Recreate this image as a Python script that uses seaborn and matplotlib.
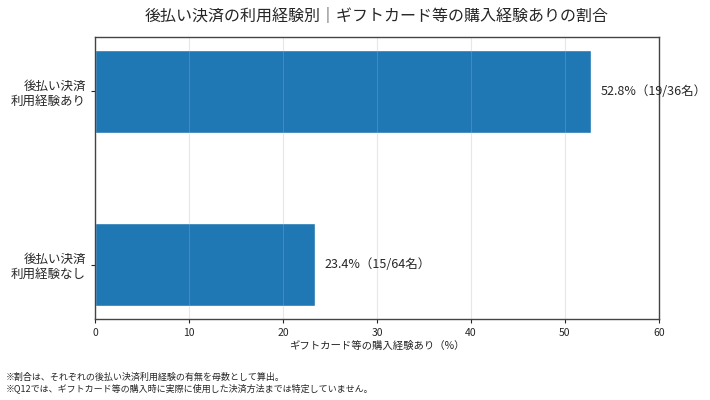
import matplotlib
matplotlib.use("Agg")
import matplotlib.pyplot as plt
import seaborn as sns
import pandas as pd

# data
groups = ["後払い決済\n利用経験あり", "後払い決済\n利用経験なし"]
rates = [52.8, 23.4]
buyers = [19, 15]
totals = [36, 64]

title = "後払い決済の利用経験別｜ギフトカード等の購入経験ありの割合"
xlabel = "ギフトカード等の購入経験あり（%）"
notes = [
    "※割合は、それぞれの後払い決済利用経験の有無を母数として算出。",
    "※Q12では、ギフトカード等の購入時に実際に使用した決済方法までは特定していません。",
]

sns.set_style("white")
plt.rcParams["font.family"] = ["Noto Sans CJK JP", "DejaVu Sans"]

df = pd.DataFrame({"group": groups, "rate": rates})

fig, ax = plt.subplots(figsize=(7.1, 4), dpi=100)
bar_w = 0.48
sns.barplot(data=df, x="rate", y="group", color="#1f77b4", saturation=1,
            width=bar_w, ax=ax)

for i, (r, b, t) in enumerate(zip(rates, buyers, totals)):
    ax.text(r + 1, i, f"{r:.1f}%（{b}/{t}名）", va="center", ha="left", fontsize=9)

ax.set_xlim(0, 60)
pad = (len(groups) - 1 + bar_w) * 0.05
ax.set_ylim(len(groups) - 1 + bar_w / 2 + pad, -bar_w / 2 - pad)
ax.set_axisbelow("line")
ax.grid(axis="x", color="#b0b0b0", alpha=0.3, linewidth=0.8)
ax.tick_params(axis="y", labelsize=9, length=3, left=True)
ax.tick_params(axis="x", labelsize=7.5, length=3, bottom=True)
ax.set_ylabel("")
ax.set_xlabel(xlabel, fontsize=7.5, labelpad=2)
ax.set_title(title, fontsize=11.5, pad=12)
for s in ax.spines.values():
    s.set_color("#444444")
    s.set_linewidth(1.0)

fig.subplots_adjust(left=0.134, right=0.928, top=0.9075, bottom=0.2025)
fig.text(0.008, 0.018, "\n".join(notes), fontsize=6.5, ha="left", va="bottom",
         linespacing=1.1)

fig.savefig("out.png", dpi=100)
plt.close(fig)
